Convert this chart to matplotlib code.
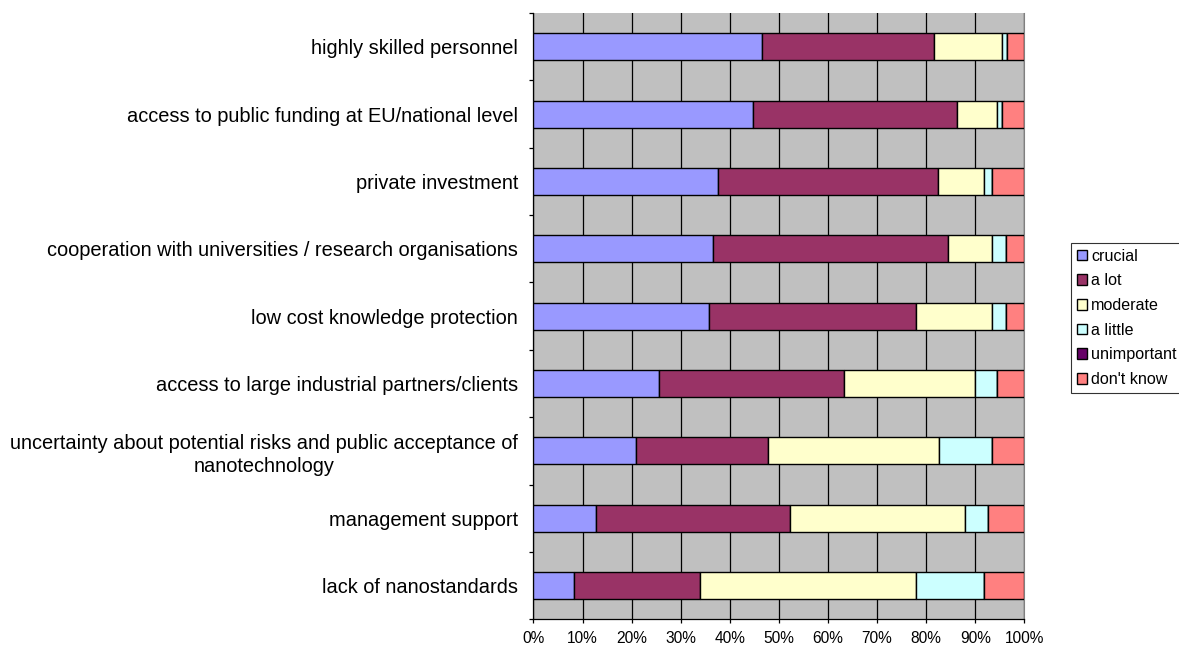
import numpy as np
import matplotlib
matplotlib.use("Agg")
from matplotlib import pyplot as plt
from matplotlib.ticker import PercentFormatter

plt.rcParams['font.family'] = ['Liberation Sans', 'DejaVu Sans']

# Категории сверху вниз
categories = [
    "highly skilled personnel",
    "access to public funding at EU/national level",
    "private investment",
    "cooperation with universities / research organisations",
    "low cost knowledge protection",
    "access to large industrial partners/clients",
    "uncertainty about potential risks and public acceptance of\nnanotechnology",
    "management support",
    "lack of nanostandards",
]

series_names = ["crucial", "a lot", "moderate", "a little", "unimportant", "don't know"]

crucial = [46.6, 44.8, 37.6, 36.6, 35.7, 25.6, 20.9, 12.8, 8.2]
a_lot = [35.0, 41.4, 44.9, 47.8, 42.3, 37.7, 26.8, 39.5, 25.7]
moderate = [13.8, 8.3, 9.3, 9.1, 15.5, 26.6, 34.9, 35.7, 44.1]
a_little = [1.0, 0.9, 1.7, 2.8, 2.8, 4.6, 10.9, 4.7, 13.8]
unimportant = [0, 0, 0, 0, 0, 0, 0, 0, 0]
dont_know = [3.6, 4.6, 6.5, 3.7, 3.7, 5.5, 6.5, 7.3, 8.2]

colors = ["#9999FF", "#993366", "#FFFFCC", "#CCFFFF", "#660066", "#FF8080"]

data = np.array([crucial, a_lot, moderate, a_little, unimportant, dont_know])
data = data / data.sum(axis=0) * 100

fig = plt.figure(figsize=(11.79, 6.48), dpi=100)
ax = fig.add_axes([0.4525, 0.0443, 0.4163, 0.9356])
ax.set_facecolor("#C0C0C0")

y = np.arange(len(categories))
left = np.zeros(len(categories))
for name, vals, col in zip(series_names, data, colors):
    ax.barh(y, vals, left=left, height=0.4, color=col, edgecolor="black",
            linewidth=1.0, label=name, zorder=3)
    left += vals

ax.set_xlim(0, 100)
ax.set_ylim(len(categories) - 0.5, -0.5)
ax.set_xticks(np.arange(0, 101, 10))
ax.xaxis.set_major_formatter(PercentFormatter(decimals=0))
ax.grid(axis="x", color="black", linewidth=0.9, zorder=1)
ax.set_axisbelow(True)

ax.set_yticks(y)
ax.set_yticklabels(categories, fontsize=14.4, ha="right", multialignment="center",
                   linespacing=1.3)
ax.set_yticks(np.arange(-0.5, len(categories), 1), minor=True)
ax.tick_params(axis="y", which="major", length=0, pad=11)
ax.tick_params(axis="y", which="minor", length=3, width=0.9, color="black")
ax.tick_params(axis="x", length=3, width=0.9, labelsize=11.2, pad=5.5)

ax.spines["top"].set_visible(False)
ax.spines["right"].set_color("#808080")
ax.spines["left"].set_linewidth(0.9)
ax.spines["bottom"].set_linewidth(0.9)

leg = fig.legend(loc="upper left", bbox_to_anchor=(0.9084, 0.625), fontsize=11.6,
                 frameon=True, fancybox=False, edgecolor="black",
                 handlelength=0.65, handleheight=0.65, handletextpad=0.25,
                 labelspacing=0.6, borderpad=0.35, borderaxespad=0)
leg.get_frame().set_linewidth(0.8)

fig.savefig("out.png", dpi=100)
